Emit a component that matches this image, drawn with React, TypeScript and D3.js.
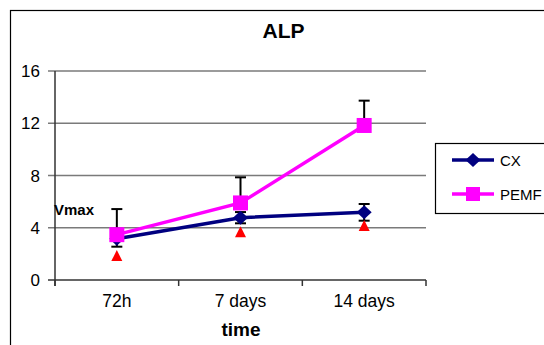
import React from "react";
import * as d3 from "d3";

const categories = ["72h", "7 days", "14 days"];
const cxValues = [3.16, 4.77, 5.18];
const cxErrors = [0.61, 0.43, 0.64];
const pemfValues = [3.47, 5.9, 11.83];
const pemfErrors = [1.96, 1.96, 1.9];
const vmaxValues = [1.87, 3.7, 4.17];
const yTicks = [0, 4, 8, 12, 16];
const seriesNames = ["CX", "PEMF"];

const W = 544;
const H = 345;
const FONT = "'Liberation Sans', Arial, Helvetica, sans-serif";

export default function App() {
  const x = d3.scaleBand<string>().domain(categories).range([55, 426]).paddingInner(0).paddingOuter(0);
  const y = d3.scaleLinear().domain([0, 16]).range([280, 71]);
  const cx = (c: string) => (x(c) as number) + x.bandwidth() / 2;

  const line = d3
    .line<number>()
    .x((_, i) => cx(categories[i]))
    .y((d) => y(d));

  const diamond = (px: number, py: number, w = 15, h = 14) =>
    `M${px},${py - h / 2}L${px + w / 2},${py}L${px},${py + h / 2}L${px - w / 2},${py}Z`;
  const triangle = (px: number, py: number, s = 11) =>
    `M${px},${py - s / 2}L${px + s / 2},${py + s / 2}L${px - s / 2},${py + s / 2}Z`;

  const capW = 11;
  const boundaries = [55, ...categories.map((c) => (x(c) as number) + x.bandwidth())];

  return (
    <svg width={W} height={H} style={{ position: "absolute", left: 0, top: 0, background: "#fff" }} fontFamily={FONT}>
      <rect x={0} y={0} width={W} height={H} fill="#fff" />
      {/* outer frame */}
      <rect x={10.5} y={10.5} width={W + 20} height={H + 20} fill="none" stroke="#000" strokeWidth={1.2} />
      {/* title */}
      <text x={283.5} y={38} textAnchor="middle" fontSize={21} fontWeight="bold">ALP</text>

      {/* gridlines */}
      {yTicks.filter((t) => t > 0).map((t) => (
        <line key={t} x1={48} x2={426} y1={y(t)} y2={y(t)} stroke="#7a7a7a" strokeWidth={1.5} />
      ))}
      {/* y axis */}
      <line x1={55} x2={55} y1={y(16)} y2={y(0) + 6} stroke="#333" strokeWidth={1.5} />
      <line x1={48} x2={426} y1={y(0)} y2={y(0)} stroke="#333" strokeWidth={1.5} />
      {boundaries.map((b, i) => (
        <line key={i} x1={b} x2={b} y1={y(0)} y2={y(0) + 6} stroke="#333" strokeWidth={1.5} />
      ))}
      {yTicks.map((t) => (
        <text key={t} x={40} y={y(t) + 6} textAnchor="end" fontSize={17}>{t}</text>
      ))}
      {categories.map((c) => (
        <text key={c} x={cx(c)} y={307} textAnchor="middle" fontSize={17.5}>{c}</text>
      ))}
      <text x={241} y={336} textAnchor="middle" fontSize={19} fontWeight="bold">time</text>
      <text x={54} y={214.5} fontSize={15} fontWeight="bold">Vmax</text>

      {/* error bars */}
      {categories.map((c, i) => {
        const px = cx(c);
        const lo = y(cxValues[i] - cxErrors[i]);
        const hi = y(cxValues[i] + cxErrors[i]);
        return (
          <g key={"cxe" + c} stroke="#000" strokeWidth={2}>
            <line x1={px} x2={px} y1={lo} y2={hi} />
            <line x1={px - capW / 2} x2={px + capW / 2} y1={lo} y2={lo} />
            <line x1={px - capW / 2} x2={px + capW / 2} y1={hi} y2={hi} />
          </g>
        );
      })}
      {categories.map((c, i) => {
        const px = cx(c);
        const v = y(pemfValues[i]);
        const hi = y(pemfValues[i] + pemfErrors[i]);
        return (
          <g key={"pe" + c} stroke="#000" strokeWidth={2}>
            <line x1={px} x2={px} y1={v} y2={hi} />
            <line x1={px - capW / 2} x2={px + capW / 2} y1={hi} y2={hi} />
          </g>
        );
      })}

      {/* series lines */}
      <path d={line(cxValues) || ""} fill="none" stroke="#000080" strokeWidth={3.5} />
      <path d={line(pemfValues) || ""} fill="none" stroke="#ff00ff" strokeWidth={3.5} />
      {cxValues.map((v, i) => (
        <path key={"cxm" + i} d={diamond(cx(categories[i]), y(v))} fill="#000080" />
      ))}
      {pemfValues.map((v, i) => (
        <rect key={"pm" + i} x={cx(categories[i]) - 7.5} y={y(v) - 7.5} width={15} height={15} fill="#ff00ff" />
      ))}
      {vmaxValues.map((v, i) => (
        <path key={"vm" + i} d={triangle(cx(categories[i]), y(v))} fill="#ff0000" />
      ))}

      {/* legend */}
      <rect x={435.5} y={143.5} width={150} height={70} fill="#fff" stroke="#000" strokeWidth={1.2} />
      {seriesNames.map((s, i) => {
        const ly = 160 + i * 34;
        const color = i === 0 ? "#000080" : "#ff00ff";
        return (
          <g key={s}>
            <line x1={452} x2={494} y1={ly} y2={ly} stroke={color} strokeWidth={3.5} />
            {i === 0 ? (
              <path d={diamond(473, ly)} fill={color} />
            ) : (
              <rect x={466} y={ly - 7} width={14} height={14} fill={color} />
            )}
            <text x={500} y={ly + 5.5} fontSize={15}>{s}</text>
          </g>
        );
      })}
    </svg>
  );
}
